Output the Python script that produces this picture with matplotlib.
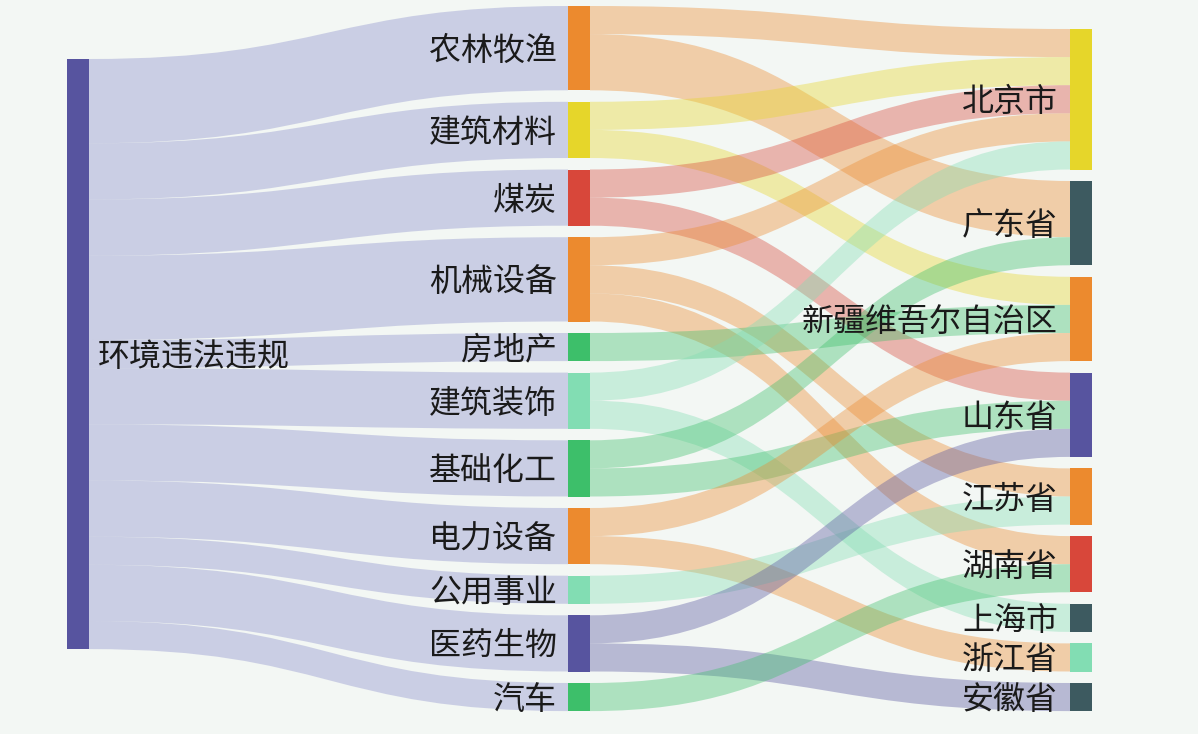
import matplotlib.pyplot as plt
from matplotlib.path import Path
from matplotlib.patches import PathPatch, Rectangle

plt.rcParams['font.family'] = ['Noto Sans CJK SC', 'DejaVu Sans']

# data
root = '环境违法违规'
industries = ['农林牧渔', '建筑材料', '煤炭', '机械设备', '房地产', '建筑装饰',
              '基础化工', '电力设备', '公用事业', '医药生物', '汽车']
industry_counts = [3, 2, 2, 3, 1, 2, 2, 2, 1, 2, 1]
regions = ['北京市', '广东省', '新疆维吾尔自治区', '山东省', '江苏省', '湖南省',
           '上海市', '浙江省', '安徽省']
link_src = ['农林牧渔', '农林牧渔', '建筑材料', '建筑材料', '煤炭', '煤炭',
            '机械设备', '机械设备', '机械设备', '房地产', '建筑装饰', '建筑装饰',
            '基础化工', '基础化工', '电力设备', '电力设备', '公用事业',
            '医药生物', '医药生物', '汽车']
link_dst = ['北京市', '广东省', '北京市', '新疆维吾尔自治区', '北京市', '山东省',
            '北京市', '江苏省', '湖南省', '新疆维吾尔自治区', '北京市', '上海市',
            '广东省', '山东省', '新疆维吾尔自治区', '浙江省', '江苏省',
            '山东省', '安徽省', '湖南省']
link_val = [1, 2, 1, 1, 1, 1, 1, 1, 1, 1, 1, 1, 1, 1, 1, 1, 1, 1, 1, 1]

# colours
bg = '#f3f7f4'
ORANGE, YELLOW, RED = '#ec8a2e', '#e6d62a', '#d8473a'
GREEN, MINT, PURPLE, SLATE = '#3dbf6a', '#82ddb3', '#57549f', '#3d5a60'
root_color = PURPLE
industry_colors = [ORANGE, YELLOW, RED, ORANGE, GREEN, MINT, GREEN, ORANGE, MINT, PURPLE, GREEN]
region_colors = [YELLOW, SLATE, ORANGE, PURPLE, ORANGE, RED, SLATE, MINT, SLATE]

# layout (pixels)
scale = 28.1
gap = 11.5
node_w = 22
col_x = [67, 568, 1070]
col_top = [59, 6, 29]
text_dy = 3


def stack(values, top):
    pos = []
    y = top
    for v in values:
        pos.append([y, y + v * scale])
        y += v * scale + gap
    return pos


def band(ax, x0, y0a, y0b, x1, y1a, y1b, color, alpha):
    xm = (x0 + x1) / 2
    verts = [(x0, y0a), (xm, y0a), (xm, y1a), (x1, y1a),
             (x1, y1b), (xm, y1b), (xm, y0b), (x0, y0b), (x0, y0a)]
    codes = [Path.MOVETO, Path.CURVE4, Path.CURVE4, Path.CURVE4,
             Path.LINETO, Path.CURVE4, Path.CURVE4, Path.CURVE4, Path.CLOSEPOLY]
    ax.add_patch(PathPatch(Path(verts, codes), facecolor=color, edgecolor='none',
                           alpha=alpha, zorder=1))


fig = plt.figure(figsize=(11.98, 7.34), dpi=100, facecolor=bg)
ax = fig.add_axes([0, 0, 1, 1])
ax.set_xlim(0, 1198)
ax.set_ylim(734, 0)
ax.axis('off')
ax.set_facecolor(bg)

root_pos = stack([sum(industry_counts)], col_top[0])[0]
ind_pos = stack(industry_counts, col_top[1])
reg_totals = [sum(v for d, v in zip(link_dst, link_val) if d == r) for r in regions]
reg_pos = stack(reg_totals, col_top[2])

# root -> industries
y = root_pos[0]
for i, v in enumerate(industry_counts):
    h = v * scale
    band(ax, col_x[0] + node_w, y, y + h, col_x[1], ind_pos[i][0], ind_pos[i][1],
         '#6e72c0', 0.3)
    y += h

# industries -> regions
links = list(zip(link_src, link_dst, link_val))
out_off = [p[0] for p in ind_pos]
in_off = [p[0] for p in reg_pos]
links_by_src = sorted(links, key=lambda l: (industries.index(l[0]), regions.index(l[1])))
src_y = {}
for s, d, v in links_by_src:
    i = industries.index(s)
    src_y[(s, d)] = out_off[i]
    out_off[i] += v * scale
links_by_dst = sorted(links, key=lambda l: (regions.index(l[1]), industries.index(l[0])))
dst_y = {}
for s, d, v in links_by_dst:
    j = regions.index(d)
    dst_y[(s, d)] = in_off[j]
    in_off[j] += v * scale
for s, d, v in links:
    h = v * scale
    y0 = src_y[(s, d)]
    y1 = dst_y[(s, d)]
    band(ax, col_x[1] + node_w, y0, y0 + h, col_x[2], y1, y1 + h,
         industry_colors[industries.index(s)], 0.38)

# nodes
ax.add_patch(Rectangle((col_x[0], root_pos[0]), node_w, root_pos[1] - root_pos[0],
                       facecolor=root_color, edgecolor='none', zorder=3))
for (a, b), c in zip(ind_pos, industry_colors):
    ax.add_patch(Rectangle((col_x[1], a), node_w, b - a, facecolor=c, edgecolor='none', zorder=3))
for (a, b), c in zip(reg_pos, region_colors):
    ax.add_patch(Rectangle((col_x[2], a), node_w, b - a, facecolor=c, edgecolor='none', zorder=3))

# labels
fs = 23
ax.text(col_x[0] + node_w + 9, sum(root_pos) / 2 + text_dy, root, fontsize=fs,
        color='#1a1a1a', ha='left', va='center', zorder=4)
for name, (a, b) in zip(industries, ind_pos):
    ax.text(col_x[1] - 11, (a + b) / 2 + text_dy, name, fontsize=fs, color='#1a1a1a',
            ha='right', va='center', zorder=4)
for name, (a, b) in zip(regions, reg_pos):
    ax.text(col_x[2] - 12, (a + b) / 2 + text_dy, name, fontsize=fs, color='#1a1a1a',
            ha='right', va='center', zorder=4)

plt.savefig('out.png', dpi=100, facecolor=bg)
